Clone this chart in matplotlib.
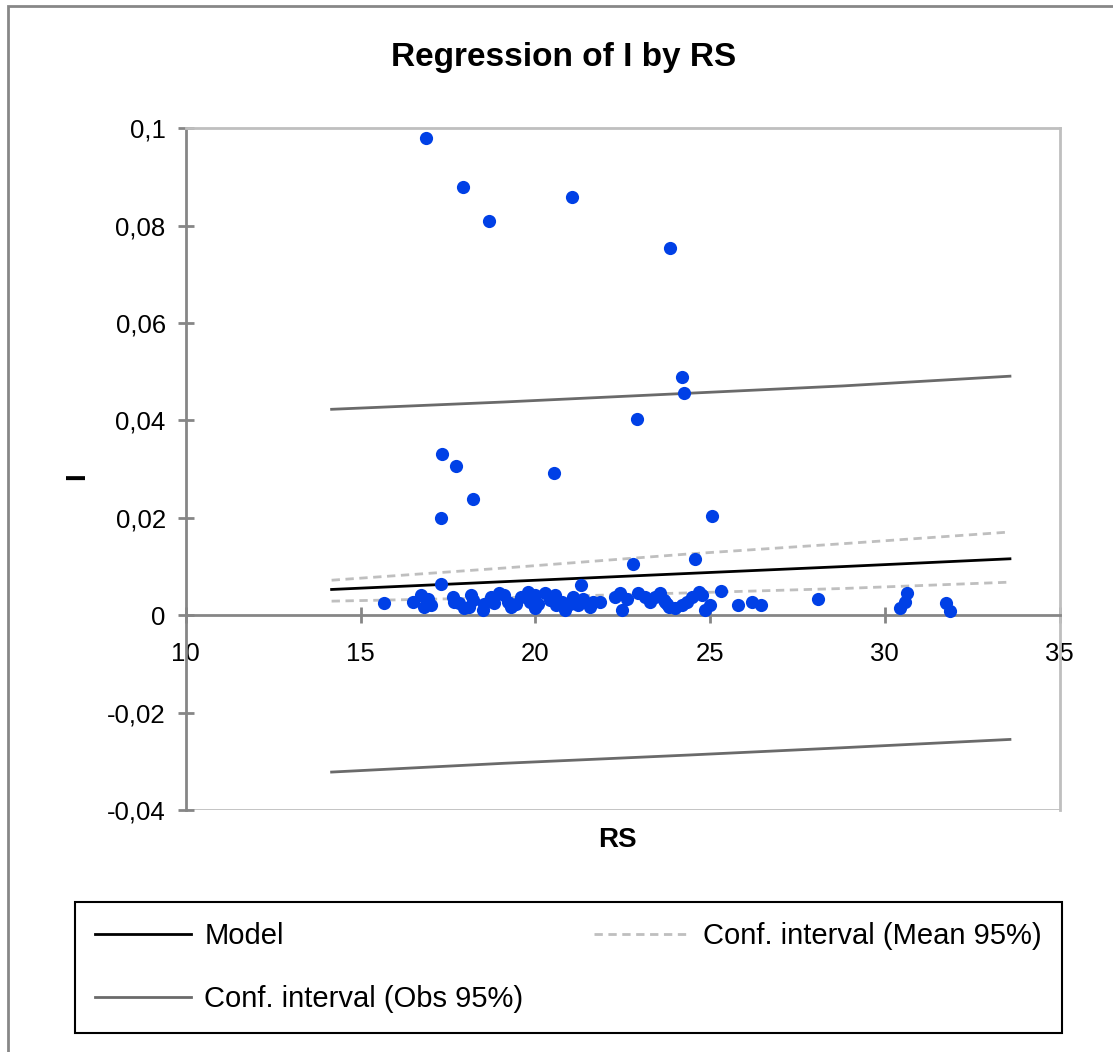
import matplotlib.pyplot as plt
from matplotlib.patches import Rectangle

# observations (RS, I)
rs = [16.87, 17.93, 18.68, 21.06, 23.85, 24.20, 24.25, 22.90, 17.33, 17.73,
      17.30, 18.22, 20.52, 25.06, 24.57, 22.79, 15.67,
      16.49, 16.74, 16.92, 16.82, 17.01, 17.30, 17.64, 17.67, 17.82, 17.96,
      18.16, 18.21, 18.10, 18.50, 18.54, 18.74, 18.82, 18.97, 19.11, 19.22,
      19.31, 19.45, 19.60, 19.79, 19.84, 19.98,
      19.98, 20.08, 20.27, 20.41, 20.55, 20.60, 20.75, 20.84, 20.99, 21.08,
      21.23, 21.32, 21.37, 21.56, 21.66, 21.85, 22.28, 22.42, 22.47, 22.61,
      22.95, 23.14, 23.28, 23.43, 23.57, 23.72, 23.81,
      23.67, 23.76, 24.00, 24.20, 24.34, 24.48, 24.68, 24.77, 24.86, 25.01,
      25.32, 25.80, 26.19, 26.45,
      28.10, 30.63, 30.57, 30.42, 31.76, 31.86]
i_obs = [0.0981, 0.0879, 0.0809, 0.0858, 0.0755, 0.0489, 0.0456, 0.0404, 0.0331, 0.0306,
         0.0199, 0.0238, 0.0292, 0.0203, 0.0115, 0.0105, 0.0025,
         0.0027, 0.0041, 0.0034, 0.0017, 0.0021, 0.0065, 0.0038, 0.0027, 0.0025, 0.0014,
         0.0041, 0.0031, 0.0017, 0.0010, 0.0024, 0.0038, 0.0025, 0.0045, 0.0041, 0.0027,
         0.0017, 0.0024, 0.0038, 0.0048, 0.0027, 0.0014,
         0.0041, 0.0024, 0.0045, 0.0031, 0.0041, 0.0021, 0.0027, 0.0010, 0.0024, 0.0038,
         0.0021, 0.0062, 0.0034, 0.0017, 0.0027, 0.0027, 0.0038, 0.0045, 0.0010, 0.0034,
         0.0045, 0.0038, 0.0027, 0.0038, 0.0045, 0.0027, 0.0017,
         0.0031, 0.0024, 0.0014, 0.0021, 0.0027, 0.0038, 0.0048, 0.0041, 0.0010, 0.0021,
         0.0050, 0.0021, 0.0027, 0.0021,
         0.0034, 0.0045, 0.0027, 0.0014, 0.0025, 0.0009]

# model and confidence bands
line_rs = [14.17, 19.1, 24.4, 28.8, 33.58]
model = [0.0053, 0.0069, 0.0086, 0.0100, 0.0116]
mean_hi = [0.0072, 0.0097, 0.0126, 0.0147, 0.0171]
mean_lo = [0.0029, 0.0036, 0.0046, 0.0055, 0.0068]
obs_hi = [0.0423, 0.0438, 0.0456, 0.0471, 0.0491]
obs_lo = [-0.0322, -0.0304, -0.0287, -0.0272, -0.0255]

xticks = [10, 15, 20, 25, 30, 35]
yticks = [-0.04, -0.02, 0, 0.02, 0.04, 0.06, 0.08, 0.1]
ylabels = ['-0,04', '-0,02', '0', '0,02', '0,04', '0,06', '0,08', '0,1']

plt.rcParams['font.family'] = ['Liberation Sans']

fig = plt.figure(figsize=(11.13, 10.52), dpi=100)
ax = fig.add_axes([0.167, 0.230, 0.785, 0.648])

ax.plot(rs, i_obs, 'o', color='#0040e6', markersize=9.5, markeredgewidth=0, zorder=3)
l_model, = ax.plot(line_rs, model, color='black', lw=2, label='Model')
l_mean, = ax.plot(line_rs, mean_hi, color='#bfbfbf', lw=2, ls=(0, (3, 2)),
                  label='Conf. interval (Mean 95%)')
ax.plot(line_rs, mean_lo, color='#bfbfbf', lw=2, ls=(0, (3, 2)))
l_obs, = ax.plot(line_rs, obs_hi, color='#6a6a6a', lw=2, label='Conf. interval (Obs 95%)')
ax.plot(line_rs, obs_lo, color='#6a6a6a', lw=2)

ax.set_xlim(10, 35)
ax.set_ylim(-0.04, 0.1)
ax.set_xticks(xticks)
ax.set_xticklabels([str(t) for t in xticks])
ax.set_yticks(yticks)
ax.set_yticklabels(ylabels)

ax.spines['bottom'].set_position(('data', 0))
ax.spines['bottom'].set_color('#868686')
ax.spines['left'].set_color('#868686')
ax.spines['bottom'].set_linewidth(2)
ax.spines['left'].set_linewidth(2)
for s in ['top', 'right']:
    ax.spines[s].set_color('#bfbfbf')
    ax.spines[s].set_linewidth(2)
ax.axhline(-0.04, color='#bfbfbf', lw=2, zorder=0)

ax.tick_params(axis='both', direction='inout', length=11, width=2, color='#868686',
               labelsize=18.5)
ax.tick_params(axis='x', pad=14)
ax.tick_params(axis='y', pad=9)

fig.text(0.506, 0.945, 'Regression of I by RS', fontsize=24, fontweight='bold',
         ha='center', va='center')
ax.set_xlabel('RS', fontsize=20, fontweight='bold')
ax.xaxis.set_label_coords(0.494, -0.025)
ax.set_ylabel('I', fontsize=20, fontweight='bold')
ax.yaxis.set_label_coords(-0.11, 0.49)

leg = fig.legend([l_model, l_obs, l_mean],
                 ['Model', 'Conf. interval (Obs 95%)', 'Conf. interval (Mean 95%)'],
                 loc='upper left', bbox_to_anchor=(0.0674, 0.1426, 0.8866, 0.0),
                 mode='expand', ncol=2, fontsize=21, handlelength=3.3,
                 handletextpad=0.45, labelspacing=1.22, borderpad=0.68,
                 borderaxespad=0, fancybox=False, edgecolor='black', framealpha=1)
leg.get_frame().set_linewidth(1.5)

fig.patches.append(Rectangle((0.0072, -0.05), 2, 1.0443, transform=fig.transFigure,
                             fill=False, edgecolor='#878787', lw=2))

fig.savefig('out.png', dpi=100)
